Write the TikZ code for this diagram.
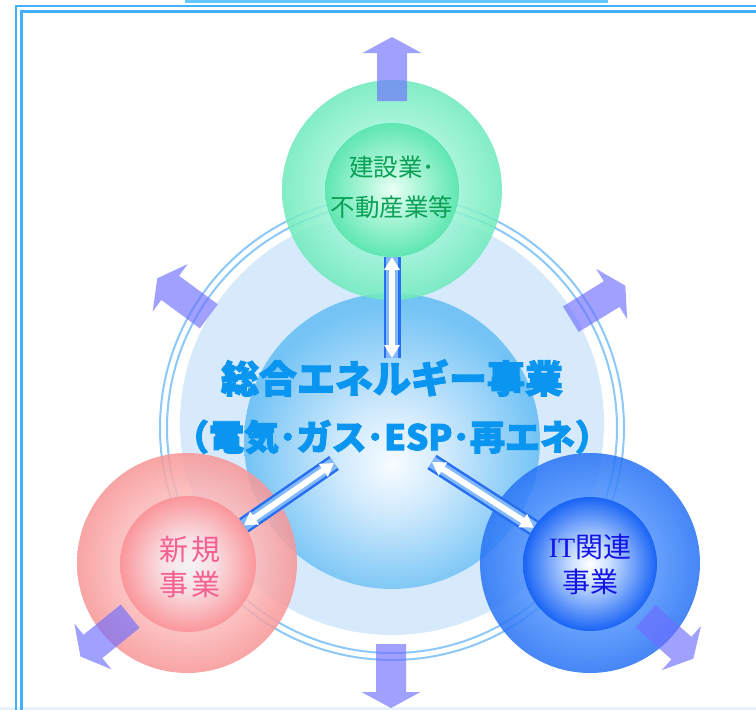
\documentclass[tikz,border=0pt]{standalone}
\usepackage{fontspec}
\newfontfamily\jp{Noto Sans CJK JP}[BoldFeatures={FakeBold=2.6}]
\newfontfamily\lserif{Liberation Serif}
\usetikzlibrary{arrows.meta,calc}

\definecolor{framecol}{RGB}{64,176,255}
\definecolor{topbar}{RGB}{100,200,255}
\definecolor{bottomstrip}{RGB}{232,242,250}
\definecolor{pale}{RGB}{214,234,252}
\definecolor{ringcol}{RGB}{140,200,250}
\definecolor{skyA}{RGB}{248,252,255}
\definecolor{skyB}{RGB}{208,234,252}
\definecolor{skyC}{RGB}{115,195,245}
\definecolor{gOa}{RGB}{160,245,215}
\definecolor{gOb}{RGB}{110,235,188}
\definecolor{gIa}{RGB}{235,255,245}
\definecolor{gIb}{RGB}{185,248,222}
\definecolor{gIc}{RGB}{95,230,178}
\definecolor{rOa}{RGB}{252,190,190}
\definecolor{rOb}{RGB}{248,150,150}
\definecolor{rIa}{RGB}{244,244,246}
\definecolor{rIb}{RGB}{248,222,226}
\definecolor{rIc}{RGB}{250,150,155}
\definecolor{bOa}{RGB}{80,148,253}
\definecolor{bOb}{RGB}{40,115,245}
\definecolor{bIa}{RGB}{255,255,255}
\definecolor{bIb}{RGB}{205,225,255}
\definecolor{bIc}{RGB}{25,100,245}
\definecolor{titlecol}{RGB}{10,150,240}
\definecolor{gtextcol}{RGB}{10,160,85}
\definecolor{rtextcol}{RGB}{245,95,145}
\definecolor{btextcol}{RGB}{20,20,230}
\definecolor{tubeA}{RGB}{40,110,240}
\definecolor{tubeB}{RGB}{130,185,250}
\definecolor{arrowcol}{RGB}{110,110,255}

\pgfdeclareradialshading{skysh}{\pgfpoint{0bp}{-4bp}}{color(0bp)=(skyA); color(9bp)=(skyB); color(25bp)=(skyC); color(50bp)=(skyC)}
\pgfdeclareradialshading{greenO}{\pgfpoint{0bp}{0bp}}{color(0bp)=(gOa); color(14bp)=(gOa); color(25bp)=(gOb); color(50bp)=(gOb)}
\pgfdeclareradialshading{greenI}{\pgfpoint{0bp}{0bp}}{color(0bp)=(gIa); color(8bp)=(gIb); color(25bp)=(gIc); color(50bp)=(gIc)}
\pgfdeclareradialshading{redO}{\pgfpoint{0bp}{0bp}}{color(0bp)=(rOa); color(14bp)=(rOa); color(25bp)=(rOb); color(50bp)=(rOb)}
\pgfdeclareradialshading{redI}{\pgfpoint{0bp}{0bp}}{color(0bp)=(rIa); color(10bp)=(rIb); color(25bp)=(rIc); color(50bp)=(rIc)}
\pgfdeclareradialshading{blueO}{\pgfpoint{0bp}{0bp}}{color(0bp)=(bOa); color(14bp)=(bOa); color(25bp)=(bOb); color(50bp)=(bOb)}
\pgfdeclareradialshading{blueI}{\pgfpoint{0bp}{0bp}}{color(0bp)=(bIa); color(7bp)=(bIb); color(25bp)=(bIc); color(50bp)=(bIc)}

\newcommand\tubeconn[2]{%
  \draw[line width=17pt, tubeA] (#1) -- (#2);
  \draw[line width=12pt, tubeB] (#1) -- (#2);
  \draw[line width=6pt, white, {Triangle[length=13pt,width=15pt]}-{Triangle[length=13pt,width=15pt]}] (#1) -- (#2);
}

\begin{document}
\begin{tikzpicture}[x=1pt,y=-1pt,
  disc/.style={circle, inner sep=0pt, outer sep=0pt},
  outerdisc/.style={disc, minimum size=220pt, opacity=0.86},
  gtext/.style={font=\jp\fontsize{24.5}{26}\selectfont, text=gtextcol, inner sep=0pt},
  rtext/.style={font=\jp\fontsize{29}{30}\selectfont, text=rtextcol, inner sep=0pt},
  btext/.style={font=\jp\fontsize{28}{30}\selectfont, text=btextcol, inner sep=0pt},
  ttext/.style={text=titlecol, inner sep=0pt},
  arrowfill/.style={fill=arrowcol, fill opacity=0.65},
  bigarrow/.pic={\fill[arrowfill] (0,15) -- (48,15) -- (48,29.5) -- (64,0) -- (48,-29.5) -- (48,-15) -- (0,-15) -- cycle;}
]
\useasboundingbox (0,0) rectangle (756,710);
\clip (0,0) rectangle (756,710);
\fill[white] (0,0) rectangle (756,710);
\fill[bottomstrip] (0,707) rectangle (756,710);
% frame
\draw[framecol, line width=2pt] (16,6) rectangle (800,800);
\draw[framecol, line width=2.6pt] (21.5,11.5) rectangle (800,800);
\fill[topbar] (185,0) rectangle (608,3);

% pale disc and double ring
\node[disc, minimum size=424pt, fill=pale] (pale) at (392,423) {};
\node[disc, minimum size=464pt, draw=ringcol, line width=2pt] (ringout) at (392,428) {};
\node[disc, minimum size=450pt, draw=ringcol, line width=2pt] (ringin) at (392,428) {};

% central sphere
\node[disc, minimum size=296pt, shade, shading=skysh] (core) at (392,441) {};

% outer coloured discs
\node[outerdisc, shade, shading=greenO] (gout) at (392,190) {};
\node[outerdisc, shade, shading=redO] (rout) at (187,563) {};
\node[outerdisc, shade, shading=blueO] (bout) at (590,563) {};
% inner discs
\node[disc, minimum size=134pt, shade, shading=greenI] (gin) at (392,190) {};
\node[disc, minimum size=136pt, shade, shading=redI] (rin) at (188,564) {};
\node[disc, minimum size=134pt, shade, shading=blueI] (bin) at (590,564) {};

% labels
\node[gtext] (gt1) at (392,167) {建設業･};
\node[gtext] (gt2) at (392,207) {不動産業等};
\node[rtext] (rt1) at (190,550) {新\hspace{3pt}規};
\node[rtext] (rt2) at (190,585) {事\hspace{3pt}業};
\node[btext] (bt1) at (590,547) {{\lserif IT}関連};
\node[btext] (bt2) at (590,582) {事業};

\node[ttext, font=\jp\bfseries\fontsize{38}{40}\selectfont] (title1) at (392,378) {総合エネルギー事業};
\node[ttext, font=\jp\bfseries\fontsize{35}{38}\selectfont] (title2) at (392,437) {（電気･ガス･ESP･再エネ）};

% connectors
\coordinate (vb) at (392,358);
\coordinate (la) at (334,463);
\coordinate (ra) at (432,462);
\tubeconn{gin}{vb}
\tubeconn{la}{rin}
\tubeconn{ra}{bin}

% outward arrows
\pic[rotate=90] at (392,101) {bigarrow};
\pic[rotate=143.6] at (208.8,316.3) {bigarrow};
\pic[rotate=31.6] at (570.8,319.2) {bigarrow};
\pic[rotate=219] at (130.2,616.2) {bigarrow};
\pic[rotate=-90] at (391,644) {bigarrow};
\pic[rotate=-41.6] at (645.5,616.2) {bigarrow};
\end{tikzpicture}
\end{document}
